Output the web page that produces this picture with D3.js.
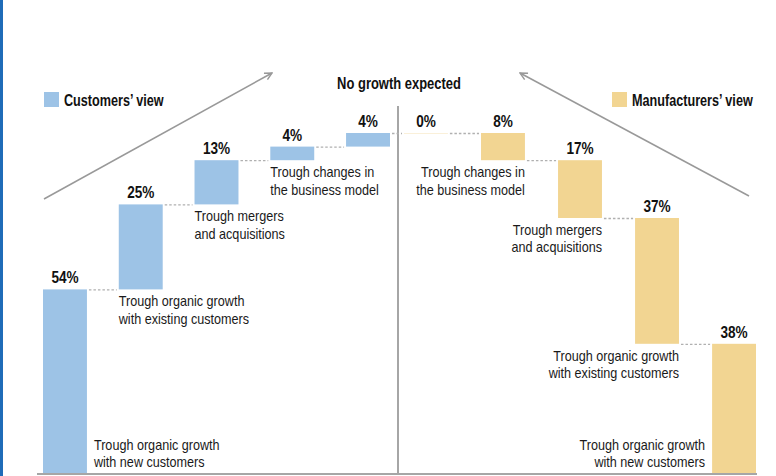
<!DOCTYPE html>
<html>
<head>
<meta charset="utf-8">
<script src="https://cdn.jsdelivr.net/npm/d3@7"></script>
<style>
  body { margin: 0; background: #fff; }
  svg { display: block; font-family: "Liberation Sans", Arial, sans-serif; }
</style>
</head>
<body>
<div id="chart"></div>
<script>
const width = 776;
const height = 476;

// data
const leftValues = [54, 25, 13, 4, 4];
const leftLabels = [
  ["Trough organic growth", "with new customers"],
  ["Trough organic growth", "with existing customers"],
  ["Trough mergers", "and acquisitions"],
  ["Trough changes in", "the business model"],
  []
];
const rightValues = [0, 8, 17, 37, 38];
const rightLabels = [
  [],
  ["Trough changes in", "the business model"],
  ["Trough mergers", "and acquisitions"],
  ["Trough organic growth", "with existing customers"],
  ["Trough organic growth", "with new customers"]
];
const leftName = "Customers\u2019 view";
const rightName = "Manufacturers\u2019 view";
const title = "No growth expected";

const blue = "#9dc3e6";
const yellow = "#f2d592";
const grey = "#a6a6a6";

const svg = d3.select("#chart")
  .append("svg")
  .attr("width", width)
  .attr("height", height);

// no condensed font installed, so squeeze regular text horizontally
function addText(parent, x, y, lines, opt) {
  const g = parent.append("g")
    .attr("transform", `translate(${x},${y}) scale(${opt.sx || 0.85},1)`);
  g.append("text")
    .attr("text-anchor", opt.anchor || "start")
    .attr("font-size", opt.size)
    .attr("font-weight", opt.weight || "normal")
    .attr("fill", opt.fill || "#111")
    .selectAll("tspan")
    .data(lines)
    .join("tspan")
    .attr("x", 0)
    .attr("dy", (t, j) => j === 0 ? 0 : opt.lh || 17.5)
    .text(t => t);
  return g;
}

// page border on the left
svg.append("rect")
  .attr("x", 0).attr("y", 0)
  .attr("width", 3).attr("height", height)
  .attr("fill", "#1f6cb8");

const y = d3.scaleLinear().domain([0, 100]).range([473, 133]);

const xLeft = d3.scaleBand()
  .domain(d3.range(leftValues.length))
  .range([43, 390])
  .paddingInner(0.42);

const xRight = d3.scaleBand()
  .domain(d3.range(rightValues.length))
  .range([404, 756])
  .paddingInner(0.43);

// waterfall steps
let acc = 0;
const leftBars = leftValues.map((v, i) => ({ i, v, lo: acc, hi: (acc += v), label: leftLabels[i] }));
acc = 100;
const rightBars = rightValues.map((v, i) => ({ i, v, hi: acc, lo: (acc -= v), label: rightLabels[i] }));

// arrows
const defs = svg.append("defs");
defs.append("marker")
  .attr("id", "head")
  .attr("viewBox", "0 0 10 10")
  .attr("refX", 9).attr("refY", 5)
  .attr("markerWidth", 6).attr("markerHeight", 6)
  .attr("orient", "auto")
  .append("path")
  .attr("d", "M1,1 L9,5 L1,9")
  .attr("fill", "none")
  .attr("stroke", "#999")
  .attr("stroke-width", 1.6);

svg.append("line")
  .attr("x1", 44).attr("y1", 199).attr("x2", 272).attr("y2", 73)
  .attr("stroke", "#999").attr("stroke-width", 1.5)
  .attr("marker-end", "url(#head)");
svg.append("line")
  .attr("x1", 749).attr("y1", 196).attr("x2", 520).attr("y2", 73)
  .attr("stroke", "#999").attr("stroke-width", 1.5)
  .attr("marker-end", "url(#head)");

// axis and centre line
svg.append("line")
  .attr("x1", 37).attr("x2", 757)
  .attr("y1", y(0) + 1).attr("y2", y(0) + 1)
  .attr("stroke", grey).attr("stroke-width", 2);
svg.append("line")
  .attr("x1", 398).attr("x2", 398)
  .attr("y1", 106).attr("y2", y(0))
  .attr("stroke", grey).attr("stroke-width", 2);

// dotted connectors
const connectors = [];
leftBars.slice(0, -1).forEach((d, i) => {
  connectors.push({ x1: xLeft(i) + xLeft.bandwidth(), x2: xLeft(i + 1), v: d.hi });
});
connectors.push({
  x1: xLeft(leftBars.length - 1) + xLeft.bandwidth(),
  x2: xRight(0),
  v: 100
});
rightBars.slice(0, -1).forEach((d, i) => {
  connectors.push({ x1: xRight(i) + xRight.bandwidth(), x2: xRight(i + 1), v: d.lo });
});
svg.append("g")
  .selectAll("line")
  .data(connectors)
  .join("line")
  .attr("x1", d => d.x1 + 2)
  .attr("x2", d => d.x2 - 2)
  .attr("y1", d => y(d.v) + 0.5)
  .attr("y2", d => y(d.v) + 0.5)
  .attr("stroke", "#b0b0b0")
  .attr("stroke-width", 1.3)
  .attr("stroke-dasharray", "2.5,2");

// bars
function drawSide(bars, x, colour, side) {
  const g = svg.append("g");
  g.selectAll("rect")
    .data(bars)
    .join("rect")
    .attr("x", d => x(d.i))
    .attr("width", x.bandwidth())
    .attr("y", d => y(d.hi))
    .attr("height", d => Math.max(1, y(d.lo) - y(d.hi)))
    .attr("fill", colour)
    .attr("fill-opacity", d => d.v === 0 ? 0.35 : 1);

  bars.forEach(d => {
    addText(g, x(d.i) + x.bandwidth() / 2, y(d.hi) - 6, [d.v + "%"],
      { size: 16, weight: "bold", anchor: "middle", sx: 0.85 });

    if (!d.label.length) return;
    const atBase = d.lo === 0;
    let tx, anchor;
    if (side === "left") {
      tx = atBase ? x(d.i) + x.bandwidth() + 7 : x(d.i);
      anchor = "start";
    } else {
      tx = atBase ? x(d.i) - 7 : x(d.i) + x.bandwidth();
      anchor = "end";
    }
    const ty = atBase ? y(0) - 6 - 17.5 * (d.label.length - 1) : y(d.lo) + 17;
    addText(g, tx, ty, d.label, { size: 14.5, anchor, sx: 0.87, fill: "#1a1a1a" });
  });
}

drawSide(leftBars, xLeft, blue, "left");
drawSide(rightBars, xRight, yellow, "right");

// title
addText(svg, 399, 89, [title], { size: 16, weight: "bold", anchor: "middle", sx: 0.81 });

// legends
const legend = [
  { name: leftName, colour: blue, x: 44 },
  { name: rightName, colour: yellow, x: 612 }
];
legend.forEach(d => {
  svg.append("rect")
    .attr("x", d.x).attr("y", 92)
    .attr("width", 15).attr("height", 15)
    .attr("fill", d.colour);
  addText(svg, d.x + 20, 106, [d.name], { size: 16, weight: "bold", sx: 0.79 });
});
</script>
</body>
</html>
